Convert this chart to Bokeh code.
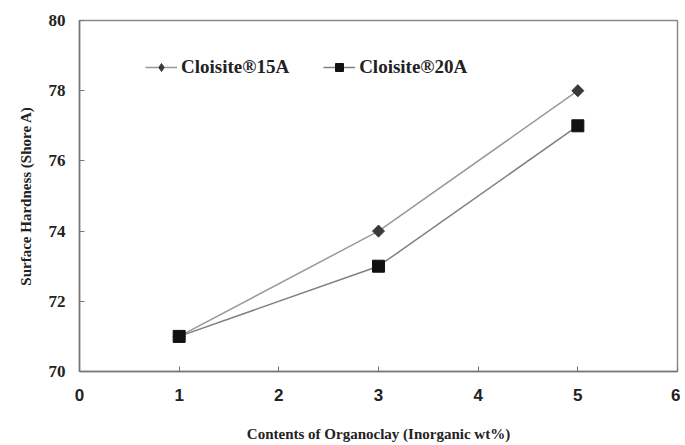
from bokeh.plotting import figure
from bokeh.models import Range1d, FixedTicker, Legend, LegendItem
from bokeh.embed import file_html
from bokeh.resources import INLINE

contents = [1, 3, 5]
hard_15a = [71, 74, 78]
hard_20a = [71, 73, 77]
x_ticks = [0, 1, 2, 3, 4, 5, 6]
y_ticks = [70, 72, 74, 76, 78, 80]

p = figure(width=680, height=444, output_backend="svg", toolbar_location=None,
           x_range=Range1d(0, 6), y_range=Range1d(70, 80),
           min_border_left=79, min_border_right=3, min_border_top=20, min_border_bottom=72)
p.grid.visible = False
p.outline_line_color = "#8a8a8a"
p.outline_line_width = 1.5
p.background_fill_color = "white"
p.border_fill_color = "white"

l1 = p.line(contents, hard_15a, line_color="#999999", line_width=1.5)
# small diamond (used for the legend swatch), covered by the rotated square below
s1_leg = p.scatter(contents, hard_15a, marker="diamond", size=11,
                   fill_color="#3a3a3a", line_color="#3a3a3a")
s1 = p.scatter(contents, hard_15a, marker="square", angle=0.7854, size=8.5,
               fill_color="#3a3a3a", line_color="#3a3a3a")
l2 = p.line(contents, hard_20a, line_color="#808080", line_width=1.5)
s2 = p.scatter(contents, hard_20a, marker="square", size=12, fill_color="#111111", line_color="#111111")

for ax in (p.xaxis[0], p.yaxis[0]):
    ax.axis_line_color = "#777777"
    ax.axis_line_width = 1.5
    ax.major_tick_line_color = "#777777"
    ax.major_tick_in = 5
    ax.major_tick_out = 0
    ax.minor_tick_line_color = None
    ax.major_label_text_font_style = "bold"
    ax.axis_label_text_font = "Liberation Serif"
    ax.axis_label_text_font_style = "bold"
    ax.axis_label_text_color = "#222222"
    ax.major_label_text_color = "#222222"

p.xaxis.ticker = FixedTicker(ticks=x_ticks)
p.yaxis.ticker = FixedTicker(ticks=y_ticks)
p.xaxis.major_label_text_font = "Liberation Sans"
p.xaxis.major_label_text_font_size = "17px"
p.xaxis.major_label_standoff = 17
p.xaxis.axis_label = "Contents of Organoclay (Inorganic wt%)"
p.xaxis.axis_label_text_font_size = "15px"
p.xaxis.axis_label_standoff = 22
p.yaxis.major_label_text_font = "Liberation Serif"
p.yaxis.major_label_text_font_size = "17px"
p.yaxis.major_label_standoff = 14
p.yaxis.axis_label = "Surface Hardness (Shore A)"
p.yaxis.axis_label_text_font_size = "15px"
p.yaxis.axis_label_standoff = 12

legend = Legend(items=[LegendItem(label="Cloisite®15A", renderers=[l1, s1_leg]),
                       LegendItem(label="Cloisite®20A", renderers=[l2, s2])],
                orientation="horizontal", location=(66, 293),
                border_line_color=None, background_fill_alpha=0,
                label_text_font="Liberation Serif", label_text_font_style="bold",
                label_text_font_size="19px", label_text_color="#222222",
                glyph_width=32, label_standoff=4, spacing=34, padding=0, margin=0)
p.add_layout(legend)

open("out.html", "w").write(file_html(p, INLINE))
